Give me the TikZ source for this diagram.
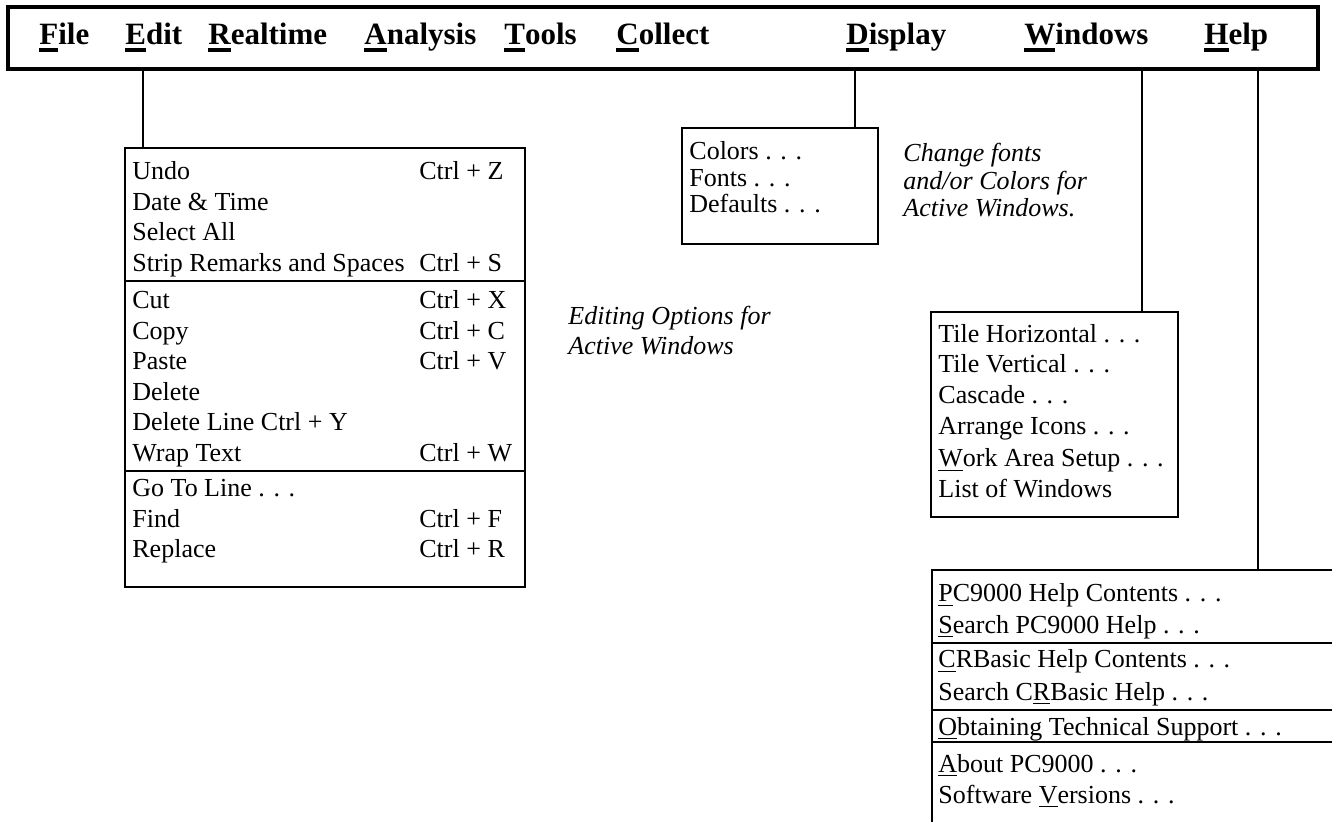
\documentclass[tikz,border=0pt]{standalone}
\usepackage{fontspec}
\setmainfont{Liberation Serif}
\usetikzlibrary{positioning,fit}
\newcommand{\menukey}[1]{\setbox0=\hbox{#1}\rlap{\rule[-3.4pt]{\wd0}{1.7pt}}\box0}
\newcommand{\hotkey}[1]{\setbox0=\hbox{#1}\rlap{\rule[-2.2pt]{\wd0}{0.8pt}}\box0}
\tikzset{
    menubar/.style={
        draw,
        line width=2pt,
        inner sep=0pt
    },
    menuitem/.style={
        anchor=base west,
        inner sep=0pt,
        font=\fontsize{15.5}{18}\selectfont\bfseries
    },
    menubox/.style={
        draw,
        line width=1.2pt,
        inner sep=0pt
    },
    entry/.style={
        anchor=base west,
        inner sep=0pt,
        font=\fontsize{13}{15}\selectfont
    },
    note/.style={
        anchor=base west,
        inner sep=0pt,
        font=\fontsize{13}{15}\selectfont\itshape
    },
    link/.style={line width=1.1pt},
    divider/.style={line width=1.1pt}
}

\begin{document}
\begin{tikzpicture}[x=0.5pt,y=-0.5pt]
    \useasboundingbox (0,0) rectangle (1332,822);
    \clip (0,0) rectangle (1332,822);
    % Menu bar
    \node (bar) [menubar, fit={(8,7) (1318,69)}] {};
    \node (file) at (39,45) [menuitem] {\menukey{F}ile};
    \node (edit) at (125,45) [menuitem] {\menukey{E}dit};
    \node (realtime) at (208,45) [menuitem] {\menukey{R}ealtime};
    \node (analysis) at (364,45) [menuitem] {\menukey{A}nalysis};
    \node (tools) at (504,45) [menuitem] {\menukey{T}ools};
    \node (collect) at (616,45) [menuitem] {\menukey{C}ollect};
    \node (display) at (846,45) [menuitem] {\menukey{D}isplay};
    \node (windows) at (1024,45) [menuitem] {\menukey{W}indows};
    \node (help) at (1204,45) [menuitem] {\menukey{H}elp};
    \coordinate (editdrop) at (143,69);
    \coordinate (displaydrop) at (855,69);
    \coordinate (windowsdrop) at (1142,69);
    \coordinate (helpdrop) at (1258,69);
    % Edit menu
    \node (editbox) [menubox, fit={(125,148) (525,587)}] {};
    \foreach \y/\txt/\key [count=\i] in {180/Undo/Ctrl + Z, 210.5/Date \& Time/, 241/Select All/,
        271.5/Strip Remarks and Spaces/Ctrl + S, 309/Cut/Ctrl + X, 339.5/Copy/Ctrl + C,
        370/Paste/Ctrl + V, 400.5/Delete/, 431/Delete Line Ctrl + Y/, 461.5/Wrap Text/Ctrl + W,
        497/Go To Line . . ./, 527.5/Find/Ctrl + F, 558/Replace/Ctrl + R}{
        \node (editrow\i) at (132,\y) [entry] {\txt};
        \node (editkey\i) at (419,\y) [entry] {\key};
    }
    \foreach \y in {281,471}
        \draw[divider] (editbox.west |- 0,\y) -- (editbox.east |- 0,\y);
    \foreach \y/\txt [count=\i] in {325/Editing Options for, 355/Active Windows}
        \node (editnote\i) at (568,\y) [note] {\txt};
    % Display menu
    \node (displaybox) [menubox, fit={(682,128) (878,244)}] {};
    \foreach \y/\txt [count=\i] in {160/Colors . . ., 187/Fonts . . ., 213/Defaults . . .}
        \node (displayrow\i) at (689,\y) [entry] {\txt};
    \foreach \y/\txt [count=\i] in {162/Change fonts, 190/{and/or Colors for}, 217/Active Windows.}
        \node (displaynote\i) at (903,\y) [note] {\txt};
    % Windows menu
    \node (windowsbox) [menubox, fit={(931,312) (1178,517)}] {};
    \foreach \y/\txt [count=\i] in {343/Tile Horizontal . . ., 373/Tile Vertical . . ., 404/Cascade . . .,
        435/Arrange Icons . . ., 467/\hotkey{W}ork Area Setup . . ., 498/List of Windows}
        \node (windowsrow\i) at (938,\y) [entry] {\txt};
    % Help menu (runs off the page)
    \node (helpbox) [menubox, fit={(932,570) (1400,900)}] {};
    \foreach \y/\txt [count=\i] in {602/\hotkey{P}C9000 Help Contents . . ., 633/\hotkey{S}earch PC9000 Help . . .,
        668/\hotkey{C}RBasic Help Contents . . ., 700/Search C\hotkey{R}Basic Help . . .,
        735/\hotkey{O}btaining Technical Support . . ., 772/\hotkey{A}bout PC9000 . . .,
        803/Software \hotkey{V}ersions . . .}
        \node (helprow\i) at (938,\y) [entry] {\txt};
    \foreach \y in {643,710,742}
        \draw[divider] (helpbox.west |- 0,\y) -- (helpbox.east |- 0,\y);
    % Connectors
    \draw[link] (editdrop) -- (editdrop |- editbox.north);
    \draw[link] (displaydrop) -- (displaydrop |- displaybox.north);
    \draw[link] (windowsdrop) -- (windowsdrop |- windowsbox.north);
    \draw[link] (helpdrop) -- (helpdrop |- helpbox.north);
\end{tikzpicture}
\end{document}
